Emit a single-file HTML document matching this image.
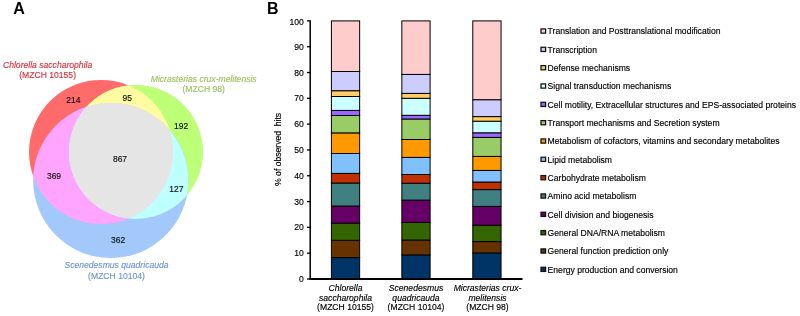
<!DOCTYPE html><html><head><meta charset="utf-8"><style>html,body{margin:0;padding:0;background:#fff;}svg{display:block;will-change:transform;}text{font-family:"Liberation Sans",sans-serif;}</style></head><body>
<svg width="800" height="316" viewBox="0 0 800 316">
<rect width="800" height="316" fill="#fff"/>
<defs>
<clipPath id="cR"><circle cx="101.1" cy="152.0" r="72.1"/></clipPath>
<clipPath id="cG"><circle cx="136.0" cy="151.9" r="67.0"/></clipPath>
</defs>
<circle cx="101.1" cy="152.0" r="72.1" fill="#FF6B6B"/>
<circle cx="136.0" cy="151.9" r="67.0" fill="#BEFF78"/>
<circle cx="110.8" cy="180.5" r="77.6" fill="#A3C8FA"/>
<g clip-path="url(#cR)"><circle cx="136.0" cy="151.9" r="67.0" fill="#FFFBA0"/><circle cx="110.8" cy="180.5" r="77.6" fill="#FFA5FF"/></g>
<g clip-path="url(#cG)"><circle cx="110.8" cy="180.5" r="77.6" fill="#BEFFFF"/></g>
<g clip-path="url(#cR)"><g clip-path="url(#cG)"><circle cx="110.8" cy="180.5" r="77.6" fill="#E5E5E5"/></g></g>
<text transform="translate(73.4,103.1) scale(1,1.1)" font-size="8.5" fill="#111" text-anchor="middle" stroke="#111" stroke-width="0.15">214</text>
<text transform="translate(127.3,100.9) scale(1,1.1)" font-size="8.5" fill="#111" text-anchor="middle" stroke="#111" stroke-width="0.15">95</text>
<text transform="translate(181.2,128.9) scale(1,1.1)" font-size="8.5" fill="#111" text-anchor="middle" stroke="#111" stroke-width="0.15">192</text>
<text transform="translate(120,162.2) scale(1,1.1)" font-size="8.5" fill="#111" text-anchor="middle" stroke="#111" stroke-width="0.15">867</text>
<text transform="translate(54,178.8) scale(1,1.1)" font-size="8.5" fill="#111" text-anchor="middle" stroke="#111" stroke-width="0.15">369</text>
<text transform="translate(176.3,192.2) scale(1,1.1)" font-size="8.5" fill="#111" text-anchor="middle" stroke="#111" stroke-width="0.15">127</text>
<text transform="translate(118.2,242.8) scale(1,1.1)" font-size="8.5" fill="#111" text-anchor="middle" stroke="#111" stroke-width="0.15">362</text>
<text transform="translate(47.6,67.9) scale(1,1.07)" font-size="8.6" fill="#D8333C" text-anchor="middle" font-style="italic" stroke="#D8333C" stroke-width="0.15">Chlorella saccharophila</text>
<text transform="translate(47.6,77.5) scale(1,1.07)" font-size="8.6" fill="#D8333C" text-anchor="middle" stroke="#D8333C" stroke-width="0.15">(MZCH 10155)</text>
<text transform="translate(203.7,81.7) scale(1,1.07)" font-size="8.6" fill="#9BC35F" text-anchor="middle" font-style="italic" stroke="#9BC35F" stroke-width="0.15">Micrasterias crux-melitensis</text>
<text transform="translate(203.7,91.7) scale(1,1.07)" font-size="8.6" fill="#9BC35F" text-anchor="middle" stroke="#9BC35F" stroke-width="0.15">(MZCH 98)</text>
<text transform="translate(116.5,268.3) scale(1,1.07)" font-size="8.6" fill="#6E96D2" text-anchor="middle" font-style="italic" stroke="#6E96D2" stroke-width="0.15">Scenedesmus quadricauda</text>
<text transform="translate(116.5,278.6) scale(1,1.07)" font-size="8.6" fill="#6E96D2" text-anchor="middle" stroke="#6E96D2" stroke-width="0.15">(MZCH 10104)</text>
<text x="13.2" y="13.8" font-size="16" font-weight="bold" fill="#000">A</text>
<text x="267" y="13.8" font-size="16" font-weight="bold" fill="#000">B</text>
<rect x="331.4" y="257.6" width="28.25" height="21.40" fill="#003366" stroke="#000" stroke-width="1"/>
<rect x="331.4" y="240.3" width="28.25" height="17.30" fill="#663300" stroke="#000" stroke-width="1"/>
<rect x="331.4" y="223.1" width="28.25" height="17.20" fill="#336600" stroke="#000" stroke-width="1"/>
<rect x="331.4" y="206" width="28.25" height="17.10" fill="#660066" stroke="#000" stroke-width="1"/>
<rect x="331.4" y="183" width="28.25" height="23.00" fill="#408080" stroke="#000" stroke-width="1"/>
<rect x="331.4" y="173.4" width="28.25" height="9.60" fill="#C03000" stroke="#000" stroke-width="1"/>
<rect x="331.4" y="153.5" width="28.25" height="19.90" fill="#80C0FF" stroke="#000" stroke-width="1"/>
<rect x="331.4" y="132.9" width="28.25" height="20.60" fill="#FF9900" stroke="#000" stroke-width="1"/>
<rect x="331.4" y="115.5" width="28.25" height="17.40" fill="#99CC66" stroke="#000" stroke-width="1"/>
<rect x="331.4" y="110.4" width="28.25" height="5.10" fill="#9966FF" stroke="#000" stroke-width="1"/>
<rect x="331.4" y="96.5" width="28.25" height="13.90" fill="#CCFFFF" stroke="#000" stroke-width="1"/>
<rect x="331.4" y="90.7" width="28.25" height="5.80" fill="#FFCC66" stroke="#000" stroke-width="1"/>
<rect x="331.4" y="71.5" width="28.25" height="19.20" fill="#CCCCFF" stroke="#000" stroke-width="1"/>
<rect x="331.4" y="20.9" width="28.25" height="50.60" fill="#FFCCCC" stroke="#000" stroke-width="1"/>
<rect x="401.85" y="254.9" width="28.25" height="24.10" fill="#003366" stroke="#000" stroke-width="1"/>
<rect x="401.85" y="240" width="28.25" height="14.90" fill="#663300" stroke="#000" stroke-width="1"/>
<rect x="401.85" y="222.4" width="28.25" height="17.60" fill="#336600" stroke="#000" stroke-width="1"/>
<rect x="401.85" y="200.1" width="28.25" height="22.30" fill="#660066" stroke="#000" stroke-width="1"/>
<rect x="401.85" y="183.2" width="28.25" height="16.90" fill="#408080" stroke="#000" stroke-width="1"/>
<rect x="401.85" y="174.5" width="28.25" height="8.70" fill="#C03000" stroke="#000" stroke-width="1"/>
<rect x="401.85" y="157.4" width="28.25" height="17.10" fill="#80C0FF" stroke="#000" stroke-width="1"/>
<rect x="401.85" y="139.5" width="28.25" height="17.90" fill="#FF9900" stroke="#000" stroke-width="1"/>
<rect x="401.85" y="119" width="28.25" height="20.50" fill="#99CC66" stroke="#000" stroke-width="1"/>
<rect x="401.85" y="115.3" width="28.25" height="3.70" fill="#9966FF" stroke="#000" stroke-width="1"/>
<rect x="401.85" y="98.3" width="28.25" height="17.00" fill="#CCFFFF" stroke="#000" stroke-width="1"/>
<rect x="401.85" y="93.4" width="28.25" height="4.90" fill="#FFCC66" stroke="#000" stroke-width="1"/>
<rect x="401.85" y="74.4" width="28.25" height="19.00" fill="#CCCCFF" stroke="#000" stroke-width="1"/>
<rect x="401.85" y="20.9" width="28.25" height="53.50" fill="#FFCCCC" stroke="#000" stroke-width="1"/>
<rect x="472.8" y="252.9" width="28.25" height="26.10" fill="#003366" stroke="#000" stroke-width="1"/>
<rect x="472.8" y="241.6" width="28.25" height="11.30" fill="#663300" stroke="#000" stroke-width="1"/>
<rect x="472.8" y="225.2" width="28.25" height="16.40" fill="#336600" stroke="#000" stroke-width="1"/>
<rect x="472.8" y="206.4" width="28.25" height="18.80" fill="#660066" stroke="#000" stroke-width="1"/>
<rect x="472.8" y="189.6" width="28.25" height="16.80" fill="#408080" stroke="#000" stroke-width="1"/>
<rect x="472.8" y="182" width="28.25" height="7.60" fill="#C03000" stroke="#000" stroke-width="1"/>
<rect x="472.8" y="170.4" width="28.25" height="11.60" fill="#80C0FF" stroke="#000" stroke-width="1"/>
<rect x="472.8" y="156.4" width="28.25" height="14.00" fill="#FF9900" stroke="#000" stroke-width="1"/>
<rect x="472.8" y="137.4" width="28.25" height="19.00" fill="#99CC66" stroke="#000" stroke-width="1"/>
<rect x="472.8" y="132.8" width="28.25" height="4.60" fill="#9966FF" stroke="#000" stroke-width="1"/>
<rect x="472.8" y="121.2" width="28.25" height="11.60" fill="#CCFFFF" stroke="#000" stroke-width="1"/>
<rect x="472.8" y="116.6" width="28.25" height="4.60" fill="#FFCC66" stroke="#000" stroke-width="1"/>
<rect x="472.8" y="99.7" width="28.25" height="16.90" fill="#CCCCFF" stroke="#000" stroke-width="1"/>
<rect x="472.8" y="20.9" width="28.25" height="78.80" fill="#FFCCCC" stroke="#000" stroke-width="1"/>
<line x1="310.2" y1="20.9" x2="310.2" y2="279" stroke="#000" stroke-width="1.5"/>
<line x1="309.5" y1="279" x2="522.5" y2="279" stroke="#000" stroke-width="1.8"/>
<line x1="307" y1="279.00" x2="311" y2="279.00" stroke="#000" stroke-width="1.3"/>
<text transform="translate(303.8,282.1) scale(1,1.07)" font-size="8.6" fill="#000" text-anchor="end" stroke="#000" stroke-width="0.15">0</text>
<line x1="307" y1="253.19" x2="311" y2="253.19" stroke="#000" stroke-width="1.3"/>
<text transform="translate(303.8,256.29) scale(1,1.07)" font-size="8.6" fill="#000" text-anchor="end" stroke="#000" stroke-width="0.15">10</text>
<line x1="307" y1="227.38" x2="311" y2="227.38" stroke="#000" stroke-width="1.3"/>
<text transform="translate(303.8,230.48) scale(1,1.07)" font-size="8.6" fill="#000" text-anchor="end" stroke="#000" stroke-width="0.15">20</text>
<line x1="307" y1="201.57" x2="311" y2="201.57" stroke="#000" stroke-width="1.3"/>
<text transform="translate(303.8,204.67) scale(1,1.07)" font-size="8.6" fill="#000" text-anchor="end" stroke="#000" stroke-width="0.15">30</text>
<line x1="307" y1="175.76" x2="311" y2="175.76" stroke="#000" stroke-width="1.3"/>
<text transform="translate(303.8,178.86) scale(1,1.07)" font-size="8.6" fill="#000" text-anchor="end" stroke="#000" stroke-width="0.15">40</text>
<line x1="307" y1="149.95" x2="311" y2="149.95" stroke="#000" stroke-width="1.3"/>
<text transform="translate(303.8,153.05) scale(1,1.07)" font-size="8.6" fill="#000" text-anchor="end" stroke="#000" stroke-width="0.15">50</text>
<line x1="307" y1="124.14" x2="311" y2="124.14" stroke="#000" stroke-width="1.3"/>
<text transform="translate(303.8,127.24) scale(1,1.07)" font-size="8.6" fill="#000" text-anchor="end" stroke="#000" stroke-width="0.15">60</text>
<line x1="307" y1="98.33" x2="311" y2="98.33" stroke="#000" stroke-width="1.3"/>
<text transform="translate(303.8,101.43) scale(1,1.07)" font-size="8.6" fill="#000" text-anchor="end" stroke="#000" stroke-width="0.15">70</text>
<line x1="307" y1="72.52" x2="311" y2="72.52" stroke="#000" stroke-width="1.3"/>
<text transform="translate(303.8,75.62) scale(1,1.07)" font-size="8.6" fill="#000" text-anchor="end" stroke="#000" stroke-width="0.15">80</text>
<line x1="307" y1="46.71" x2="311" y2="46.71" stroke="#000" stroke-width="1.3"/>
<text transform="translate(303.8,50.41) scale(1,1.07)" font-size="8.6" fill="#000" text-anchor="end" stroke="#000" stroke-width="0.15">90</text>
<line x1="307" y1="20.90" x2="311" y2="20.90" stroke="#000" stroke-width="1.3"/>
<text transform="translate(303.8,25.2) scale(1,1.07)" font-size="8.6" fill="#000" text-anchor="end" stroke="#000" stroke-width="0.15">100</text>
<text transform="translate(281.2,149.4) rotate(-90) scale(1,1.07)" font-size="8.6" fill="#000" text-anchor="middle" stroke="#000" stroke-width="0.15" style="white-space:pre">% of observed  hits</text>
<text transform="translate(345.5,290.6) scale(1,1.07)" font-size="8.6" fill="#000" text-anchor="middle" font-style="italic" stroke="#000" stroke-width="0.15">Chlorella</text>
<text transform="translate(345.5,300.6) scale(1,1.07)" font-size="8.6" fill="#000" text-anchor="middle" font-style="italic" stroke="#000" stroke-width="0.15">saccharophila</text>
<text transform="translate(345.5,310.2) scale(1,1.07)" font-size="8.6" fill="#000" text-anchor="middle" stroke="#000" stroke-width="0.15">(MZCH 10155)</text>
<text transform="translate(416,290.6) scale(1,1.07)" font-size="8.6" fill="#000" text-anchor="middle" font-style="italic" stroke="#000" stroke-width="0.15">Scenedesmus</text>
<text transform="translate(416,300.6) scale(1,1.07)" font-size="8.6" fill="#000" text-anchor="middle" font-style="italic" stroke="#000" stroke-width="0.15">quadricauda</text>
<text transform="translate(416,310.2) scale(1,1.07)" font-size="8.6" fill="#000" text-anchor="middle" stroke="#000" stroke-width="0.15">(MZCH 10104)</text>
<text transform="translate(487.5,290.6) scale(1,1.07)" font-size="8.6" fill="#000" text-anchor="middle" font-style="italic" stroke="#000" stroke-width="0.15">Micrasterias crux-</text>
<text transform="translate(487.5,300.6) scale(1,1.07)" font-size="8.6" fill="#000" text-anchor="middle" font-style="italic" stroke="#000" stroke-width="0.15">melitensis</text>
<text transform="translate(487.5,310.2) scale(1,1.07)" font-size="8.6" fill="#000" text-anchor="middle" stroke="#000" stroke-width="0.15">(MZCH 98)</text>
<rect x="541" y="28.95" width="4.6" height="4.2" fill="#FFCCCC" stroke="#111" stroke-width="1.25"/>
<text transform="translate(547.6,34.45) scale(1,1.07)" font-size="8.6" fill="#000" stroke="#000" stroke-width="0.15">Translation and Posttranslational modification</text>
<rect x="541" y="47.28" width="4.6" height="4.2" fill="#CCCCFF" stroke="#111" stroke-width="1.25"/>
<text transform="translate(547.6,52.78) scale(1,1.07)" font-size="8.6" fill="#000" stroke="#000" stroke-width="0.15">Transcription</text>
<rect x="541" y="65.61" width="4.6" height="4.2" fill="#FFCC66" stroke="#111" stroke-width="1.25"/>
<text transform="translate(547.6,71.11) scale(1,1.07)" font-size="8.6" fill="#000" stroke="#000" stroke-width="0.15">Defense mechanisms</text>
<rect x="541" y="83.94" width="4.6" height="4.2" fill="#CCFFFF" stroke="#111" stroke-width="1.25"/>
<text transform="translate(547.6,89.44) scale(1,1.07)" font-size="8.6" fill="#000" stroke="#000" stroke-width="0.15">Signal transduction mechanisms</text>
<rect x="541" y="102.27" width="4.6" height="4.2" fill="#9966FF" stroke="#111" stroke-width="1.25"/>
<text transform="translate(547.6,107.77) scale(1,1.07)" font-size="8.6" fill="#000" stroke="#000" stroke-width="0.15">Cell motility, Extracellular structures and EPS-associated proteins</text>
<rect x="541" y="120.60" width="4.6" height="4.2" fill="#99CC66" stroke="#111" stroke-width="1.25"/>
<text transform="translate(547.6,126.1) scale(1,1.07)" font-size="8.6" fill="#000" stroke="#000" stroke-width="0.15">Transport mechanisms and Secretion system</text>
<rect x="541" y="138.93" width="4.6" height="4.2" fill="#FF9900" stroke="#111" stroke-width="1.25"/>
<text transform="translate(547.6,144.43) scale(1,1.07)" font-size="8.6" fill="#000" stroke="#000" stroke-width="0.15">Metabolism of cofactors, vitamins and secondary metabolites</text>
<rect x="541" y="157.26" width="4.6" height="4.2" fill="#80C0FF" stroke="#111" stroke-width="1.25"/>
<text transform="translate(547.6,162.76) scale(1,1.07)" font-size="8.6" fill="#000" stroke="#000" stroke-width="0.15">Lipid metabolism</text>
<rect x="541" y="175.59" width="4.6" height="4.2" fill="#C03000" stroke="#111" stroke-width="1.25"/>
<text transform="translate(547.6,181.09) scale(1,1.07)" font-size="8.6" fill="#000" stroke="#000" stroke-width="0.15">Carbohydrate metabolism</text>
<rect x="541" y="193.92" width="4.6" height="4.2" fill="#408080" stroke="#111" stroke-width="1.25"/>
<text transform="translate(547.6,199.42) scale(1,1.07)" font-size="8.6" fill="#000" stroke="#000" stroke-width="0.15">Amino acid metabolism</text>
<rect x="541" y="212.25" width="4.6" height="4.2" fill="#660066" stroke="#111" stroke-width="1.25"/>
<text transform="translate(547.6,217.75) scale(1,1.07)" font-size="8.6" fill="#000" stroke="#000" stroke-width="0.15">Cell division and biogenesis</text>
<rect x="541" y="230.58" width="4.6" height="4.2" fill="#336600" stroke="#111" stroke-width="1.25"/>
<text transform="translate(547.6,236.08) scale(1,1.07)" font-size="8.6" fill="#000" stroke="#000" stroke-width="0.15">General DNA/RNA metabolism</text>
<rect x="541" y="248.91" width="4.6" height="4.2" fill="#663300" stroke="#111" stroke-width="1.25"/>
<text transform="translate(547.6,254.41) scale(1,1.07)" font-size="8.6" fill="#000" stroke="#000" stroke-width="0.15">General function prediction only</text>
<rect x="541" y="267.24" width="4.6" height="4.2" fill="#003366" stroke="#111" stroke-width="1.25"/>
<text transform="translate(547.6,272.74) scale(1,1.07)" font-size="8.6" fill="#000" stroke="#000" stroke-width="0.15">Energy production and conversion</text>
</svg></body></html>
